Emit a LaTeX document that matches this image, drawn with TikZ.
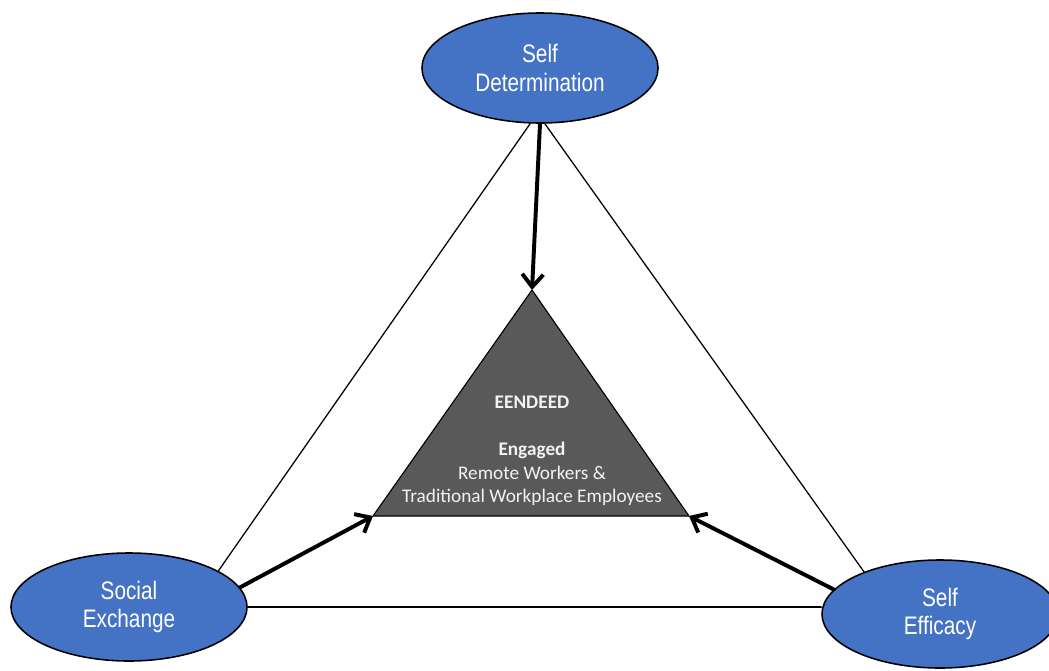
\documentclass[tikz,border=0pt]{standalone}
\usepackage{fontspec}
\setmainfont{Carlito}
\newfontfamily\ovalfont[FakeStretch=0.82]{Liberation Sans}
\usetikzlibrary{shapes.geometric,arrows.meta}
\definecolor{ovalblue}{RGB}{68,114,196}
\definecolor{coregray}{RGB}{89,89,89}
\tikzset{
  oval/.style={ellipse,draw=black,line width=1.1pt,fill=ovalblue,text=white,align=center,
    inner sep=0pt,minimum width=5.9cm,font=\ovalfont\fontsize{18}{20}\selectfont},
  link/.style={line width=0.9pt},
  push/.style={line width=2.8pt,-{Straight Barb[length=9pt,width=15pt]}}
}
\begin{document}
\begin{tikzpicture}[x=0.025cm,y=-0.025cm,line join=round,line cap=round]
			\useasboundingbox (0,0) rectangle (1049,670);
			\node[oval,minimum height=2.75cm] (det) at (540,68) {Self\\Determination};
			\node[oval,minimum height=2.7cm] (soc) at (129,607) {Social\\Exchange};
			\node[oval,minimum height=2.7cm] (eff) at (940,614) {Self\\Efficacy};
			
			\coordinate (apex) at (532,290);
			\coordinate (bl) at (373,516);
			\coordinate (br) at (689,516);
			\filldraw[fill=coregray,draw=black,line width=0.8pt] (apex)--(bl)--(br)--cycle;
			\node[text=white!95!black,align=center,font=\fontsize{13.7}{16.7}\selectfont] (core) at (532,451)
			{\textbf{EENDEED}\\[16.7pt]\textbf{Engaged}\\Remote Workers \&\\Traditional Workplace Employees};
			
			\draw[link] (det.-100) -- (soc.22);
			\draw[link] (det.-85) -- (eff.151);
			\draw[link] (soc.east) -- (soc.east -| eff.west);
			
			\draw[push] (det.south) -- (apex);
			\draw[push] (soc.10) -- (bl);
			\draw[push] (eff.167) -- (br);
\end{tikzpicture}
\end{document}
